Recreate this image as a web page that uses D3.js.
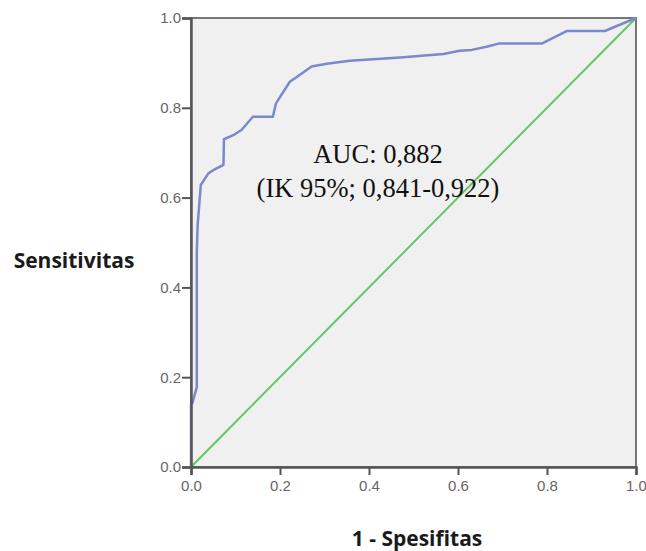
<!DOCTYPE html>
<html>
<head>
<meta charset="utf-8">
<script src="https://cdn.jsdelivr.net/npm/d3@7"></script>
<style>
  body { margin: 0; background: #fff; }
  svg { display: block; }
</style>
</head>
<body>
<div id="chart"></div>
<script>
// ROC curve points (1 - spesifitas, sensitivitas)
const fpr = [0, 0, 0.003, 0.013, 0.013, 0.015, 0.022, 0.039, 0.05, 0.073, 0.074, 0.095, 0.114, 0.139, 0.184, 0.191, 0.222, 0.237, 0.271, 0.305, 0.357, 0.470, 0.567, 0.604, 0.631, 0.664, 0.691, 0.788, 0.844, 0.930, 1];
const tpr = [0, 0.14, 0.142, 0.178, 0.48, 0.54, 0.628, 0.654, 0.661, 0.673, 0.730, 0.739, 0.751, 0.780, 0.780, 0.810, 0.858, 0.868, 0.892, 0.898, 0.905, 0.912, 0.920, 0.927, 0.929, 0.936, 0.943, 0.943, 0.971, 0.971, 1];
const refLine = [0, 1];
const ticks = [0, 0.2, 0.4, 0.6, 0.8, 1.0];
const aucLines = ["AUC: 0,882", "(IK 95%; 0,841-0,922)"];

const width = 646, height = 551;
const margin = { top: 18, right: 10, bottom: 84, left: 191 };
const innerW = width - margin.left - margin.right;
const innerH = height - margin.top - margin.bottom;

const svg = d3.select("#chart").append("svg")
    .attr("width", width)
    .attr("height", height);

const x = d3.scaleLinear().domain([0, 1]).range([margin.left, margin.left + innerW]);
const y = d3.scaleLinear().domain([0, 1]).range([margin.top + innerH, margin.top]);

// plot background + frame
svg.append("rect")
    .attr("x", x(0)).attr("y", y(1))
    .attr("width", x(1) - x(0)).attr("height", y(0) - y(1))
    .attr("fill", "#f0f0f0")
    .attr("stroke", "#777")
    .attr("stroke-width", 2);

// diagonal reference
svg.append("line")
    .attr("x1", x(refLine[0])).attr("y1", y(refLine[0]))
    .attr("x2", x(refLine[1])).attr("y2", y(refLine[1]))
    .attr("stroke", "#5ec862")
    .attr("stroke-width", 2);

// ROC curve
const pts = fpr.map((d, i) => [d, tpr[i]]);
svg.append("path")
    .datum(pts)
    .attr("fill", "none")
    .attr("stroke", "#7989cb")
    .attr("stroke-width", 2.5)
    .attr("stroke-linejoin", "round")
    .attr("d", d3.line().x(d => x(d[0])).y(d => y(d[1])));

// axes
const xAxis = svg.append("g")
    .attr("transform", `translate(0,${y(0)})`)
    .call(d3.axisBottom(x).tickValues(ticks).tickFormat(d3.format(".1f")).tickSize(8).tickPadding(5));
const yAxis = svg.append("g")
    .attr("transform", `translate(${x(0)},0)`)
    .call(d3.axisLeft(y).tickValues(ticks).tickFormat(d3.format(".1f")).tickSize(9).tickPadding(1));

[xAxis, yAxis].forEach(g => {
    g.select(".domain").attr("stroke", "#555").attr("stroke-width", 2.5);
    g.selectAll(".tick line").attr("stroke", "#555").attr("stroke-width", 2);
    g.selectAll(".tick text")
        .attr("fill", "#666")
        .style("font", "15px 'Liberation Sans', Arial, sans-serif");
});

// AUC annotation
svg.append("g").selectAll("text")
    .data(aucLines)
    .enter().append("text")
    .attr("x", 378)
    .attr("y", (d, i) => 163 + i * 34)
    .attr("text-anchor", "middle")
    .attr("fill", "#111")
    .style("font", "26.5px 'Liberation Serif', 'Times New Roman', serif")
    .text(d => d);

// axis titles
svg.append("text")
    .attr("x", 74)
    .attr("y", 268)
    .attr("text-anchor", "middle")
    .attr("fill", "#1a1a1a")
    .style("font", "bold 21px 'Open Sans', sans-serif")
    .text("Sensitivitas");

svg.append("text")
    .attr("x", 417)
    .attr("y", 546)
    .attr("text-anchor", "middle")
    .attr("fill", "#1a1a1a")
    .style("font", "bold 21px 'Open Sans', sans-serif")
    .text("1 - Spesifitas");
</script>
</body>
</html>
